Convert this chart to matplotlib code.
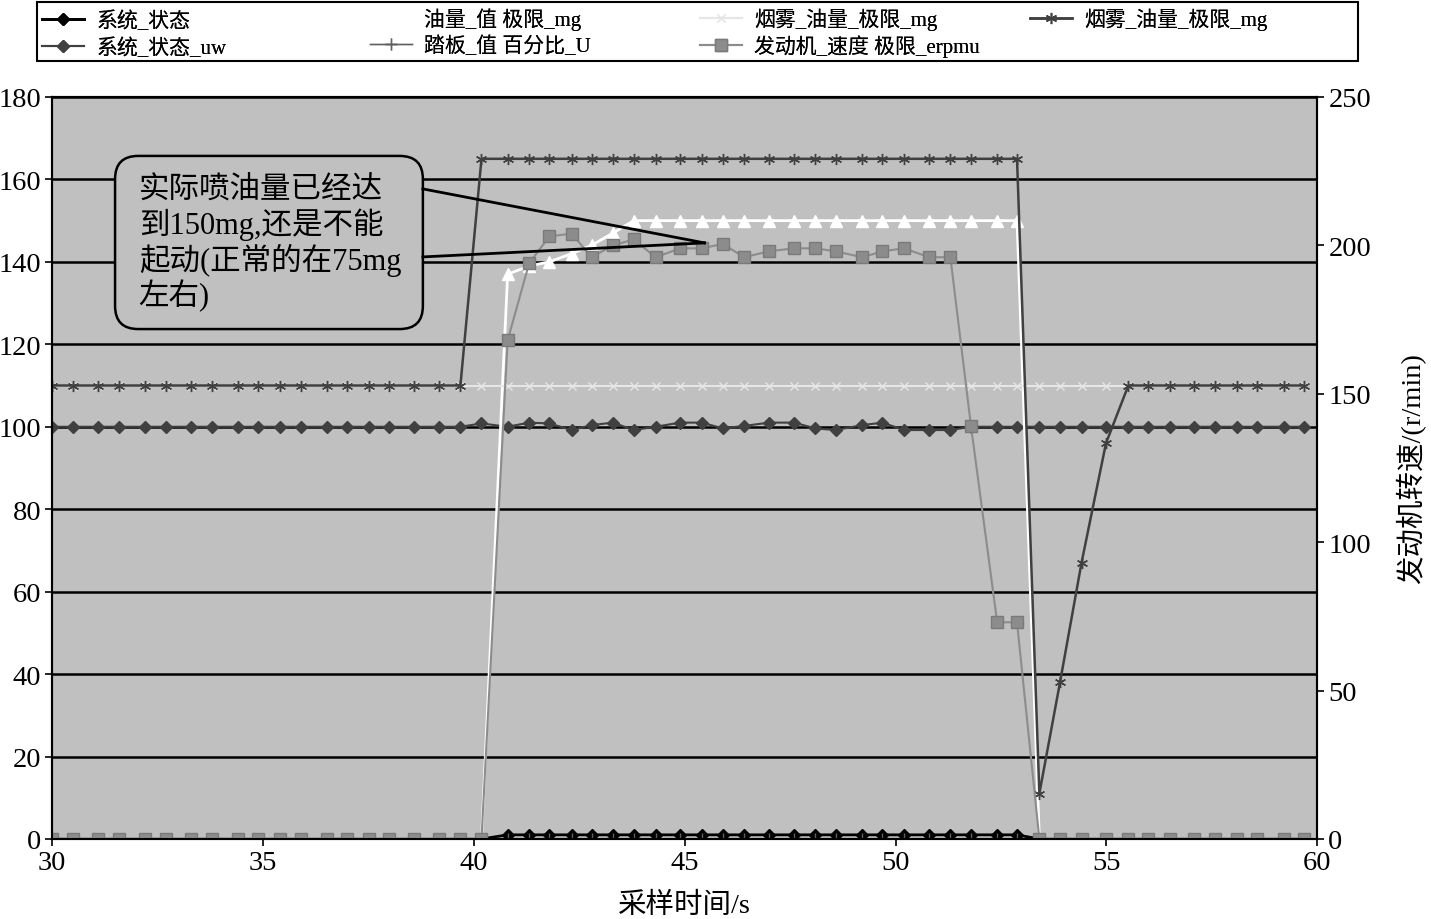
import matplotlib
matplotlib.use("Agg")
import matplotlib.pyplot as plt
from matplotlib.patches import FancyBboxPatch, Rectangle
from matplotlib.lines import Line2D

plt.rcParams['font.family'] = ['Liberation Serif', 'Noto Sans CJK SC', 'DejaVu Sans']

# Data (sampling times in s)
t = [30.0, 30.5, 31.09, 31.58, 32.2, 32.69, 33.29, 33.78, 34.4, 34.89,
     35.4, 35.89, 36.51, 36.98, 37.51, 37.98, 38.58, 39.18, 39.68, 40.18,
     40.8, 41.31, 41.79, 42.32, 42.79, 43.3, 43.79, 44.31, 44.89, 45.41,
     45.9, 46.41, 47.0, 47.59, 48.1, 48.58, 49.21, 49.69, 50.2, 50.8,
     51.3, 51.79, 52.41, 52.88, 53.41, 53.9, 54.41, 54.99, 55.52, 55.99,
     56.52, 57.08, 57.57, 58.1, 58.58, 59.21, 59.68]

sys_state = [0] * 20 + [1] * 24 + [0] * 13

sys_state_uw = [100] * 19 + [100.8, 100, 101, 100.8, 99.2, 100.4, 101, 99.2, 100, 101, 101,
                             99.6, 100.2, 101, 101, 99.6, 99.2, 100.4, 101, 99.2, 99.2,
                             99.2, 100] + [100] * 15

fuel_limit = [0] * 20 + [137, 139, 140, 142, 144, 147] + [150] * 18 + [0] * 13

pedal = [0] * 57

smoke_limit_a = [110] * 57

smoke_limit_b = [110] * 19 + [165] * 25 + [11, 38, 67, 96] + [110] * 9

engine_speed = [0] * 20 + [168, 194, 203, 204, 196, 200, 202, 196, 199, 199,
                           200.5, 196, 198, 199, 199, 198, 196, 198, 199, 196,
                           196, 139, 73, 73] + [0] * 13

labels = ["系统_状态", "系统_状态_uw", "油量_值 极限_mg", "踏板_值 百分比_U",
          "烟雾_油量_极限_mg", "发动机_速度 极限_erpmu", "烟雾_油量_极限_mg"]

fig = plt.figure(figsize=(14.31, 9.2), dpi=100)
ax = fig.add_axes([0.0365, 0.087, 0.884, 0.8065])
ax.set_facecolor('#c0c0c0')
ax2 = ax.twinx()

h1, = ax.plot(t, sys_state, color='black', lw=2, marker='D', ms=6)
h2, = ax.plot(t, sys_state_uw, color='#404040', lw=1.5, marker='D', ms=6)
h3, = ax.plot(t, fuel_limit, color='white', lw=2, marker='^', ms=8)
h4, = ax.plot(t, pedal, color='#606060', lw=1, marker='+', ms=9)
h5, = ax.plot(t, smoke_limit_a, color='#e6e6e6', lw=1.5, marker='x', ms=6)
h7, = ax.plot(t, smoke_limit_b, color='#404040', lw=1.8, marker=(6, 2, 0), ms=8)
h6, = ax2.plot(t, engine_speed, color='#8c8c8c', lw=1.5, marker='s', ms=8,
               markeredgecolor='#7a7a7a')

ax.set_xlim(30, 60)
ax.set_ylim(0, 180)
ax2.set_ylim(0, 250)
ax.set_xticks(range(30, 61, 5))
ax.set_yticks(range(0, 181, 20))
ax2.set_yticks(range(0, 251, 50))

ax.yaxis.grid(True, color='black', lw=1.8)
ax.set_axisbelow(True)

for a in (ax, ax2):
    a.tick_params(labelsize=20.5, length=5, width=1.2, pad=3)
    for s in a.spines.values():
        s.set_color('black')
        s.set_linewidth(1.5)

ax.set_xlabel("采样时间/s", fontsize=20.5, labelpad=12)
ax2.set_ylabel("发动机转速/(r/min)", fontsize=20.5, labelpad=18)

# Callout box
box = FancyBboxPatch((31.49, 123.7), 38.79 - 31.49, 165.7 - 123.7,
                     boxstyle="round,pad=0,rounding_size=0.55",
                     mutation_aspect=10.2, facecolor='#c0c0c0',
                     edgecolor='black', lw=1.8, transform=ax.transData, zorder=10)
ax2.add_patch(box)
ax2.add_line(Line2D([38.79, 45.47], [157.7, 144.6], color='black', lw=2,
                    transform=ax.transData, zorder=11))
ax2.add_line(Line2D([38.79, 45.47], [141.2, 144.6], color='black', lw=2,
                    transform=ax.transData, zorder=11))
ax2.text(32.05, 161.0, "实际喷油量已经达\n到150mg,还是不能\n起动(正常的在75mg\n左右)",
         transform=ax.transData, fontsize=22, va='top', ha='left',
         linespacing=1.12, zorder=12)

# Legend: four columns, two rows, inside one frame
handles = [h1, h2, h3, h4, h5, h6, h7]
col_x = [42, 370, 700, 1030]
row_y = [20, 47]
for i, (h, lab) in enumerate(zip(handles, labels)):
    c, r = divmod(i, 2)
    dy = 2 if c == 0 else 0
    lg = fig.legend([h], [lab], loc='center left',
                    bbox_to_anchor=(col_x[c] / 1431, 1 - (row_y[r] + dy) / 920),
                    fontsize=15, frameon=False, handlelength=2.0, handletextpad=0.6,
                    borderaxespad=0, borderpad=0)
    fig.add_artist(lg)
fig.add_artist(Rectangle((37 / 1431, 1 - 62 / 920), 1321 / 1431, 59 / 920,
                         transform=fig.transFigure, fill=False, edgecolor='black', lw=1.5))

fig.savefig("out.png", dpi=100)
